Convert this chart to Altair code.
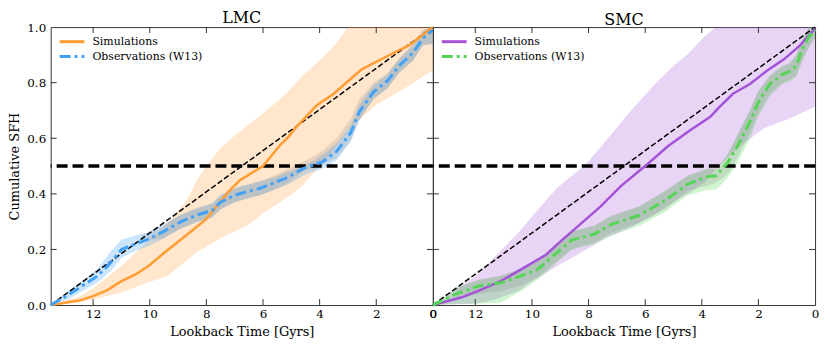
import altair as alt
import pandas as pd

FONT = "DejaVu Serif"
W, H = 385, 280
T_MAX = 13.5

panel_titles = ["LMC", "SMC"]
legend_labels = ["Simulations", "Observations (W13)"]
x_axis_title = "Lookback Time [Gyrs]"
y_axis_title = "Cumulative SFH"

x_ticks_left = [12, 10, 8, 6, 4, 2, 0]
x_ticks_right = [13.5, 12, 10, 8, 6, 4, 2, 0]
x_minor = [12, 10, 8, 6, 4, 2]
y_ticks = [0.0, 0.2, 0.4, 0.6, 0.8, 1.0]
y_minor = [0.2, 0.4, 0.6, 0.8]

diag_t = [13.5, 0.0]
diag_v = [0.0, 1.0]
half_line = [0.5]

# ---------------- LMC ----------------
lmc_sim_t = [13.5, 12.5, 12.0, 11.5, 11.0, 10.5, 10.0, 9.5, 9.0, 8.5, 8.0, 7.6, 7.2, 6.8,
             6.4, 6.0, 5.4, 5.1, 4.8, 4.1, 3.5, 3.0, 2.5, 1.6, 0.8, 0.0]
lmc_sim_v = [0.0, 0.016, 0.032, 0.054, 0.086, 0.11, 0.144, 0.187, 0.228, 0.268, 0.31, 0.36,
             0.41, 0.45, 0.475, 0.5, 0.575, 0.605, 0.643, 0.719, 0.76, 0.805, 0.849, 0.896,
             0.937, 1.0]

lmc_simband_t = [13.5, 12.5, 12.0, 11.0, 10.1, 9.4, 8.7, 8.35, 8.0, 7.5, 7.0, 6.5, 6.0, 5.4,
                 5.1, 4.6, 4.0, 3.5, 3.0, 2.0, 1.0, 0.0]
lmc_simband_hi = [0.0, 0.03, 0.06, 0.14, 0.228, 0.29, 0.376, 0.447, 0.5, 0.565, 0.61, 0.65,
                  0.69, 0.74, 0.77, 0.825, 0.88, 0.93, 1.0, 1.0, 1.0, 1.0]
lmc_simband_lo = [0.0, 0.01, 0.02, 0.045, 0.08, 0.104, 0.16, 0.19, 0.21, 0.24, 0.265, 0.29,
                  0.33, 0.37, 0.39, 0.43, 0.5, 0.56, 0.63, 0.72, 0.78, 0.845]

lmc_obs_t = [13.5, 12.9, 12.4, 11.85, 11.4, 11.0, 10.5, 10.1, 9.5, 8.9, 8.3, 7.8, 7.5, 7.0,
             6.5, 6.1, 5.6, 5.1, 4.6, 4.2, 3.9, 3.4, 2.9, 2.6, 2.1, 1.6, 1.2, 0.7, 0.35, 0.0]
lmc_obs_v = [0.0, 0.035, 0.068, 0.104, 0.15, 0.2, 0.22, 0.235, 0.265, 0.3, 0.325, 0.34, 0.37,
             0.395, 0.41, 0.42, 0.44, 0.46, 0.49, 0.505, 0.515, 0.553, 0.62, 0.695, 0.766,
             0.807, 0.86, 0.908, 0.96, 0.99]
lmc_obsband_hi = [0.0, 0.05, 0.085, 0.13, 0.19, 0.236, 0.25, 0.26, 0.29, 0.325, 0.35, 0.365,
                  0.395, 0.42, 0.435, 0.445, 0.46, 0.48, 0.5, 0.52, 0.54, 0.58, 0.645, 0.72,
                  0.79, 0.83, 0.885, 0.935, 0.985, 1.0]
lmc_obsband_lo = [0.0, 0.02, 0.05, 0.08, 0.12, 0.17, 0.195, 0.21, 0.24, 0.275, 0.3, 0.315,
                  0.345, 0.37, 0.385, 0.395, 0.415, 0.435, 0.465, 0.48, 0.49, 0.52, 0.59,
                  0.665, 0.74, 0.78, 0.835, 0.88, 0.935, 0.94]

lmc_gray_t = [10.3, 9.5, 8.9, 8.3, 7.8, 7.5, 7.0, 6.5, 6.1, 5.6, 5.1, 4.6, 4.2, 3.9, 3.4,
              2.9, 2.6, 2.1, 1.6, 1.2, 0.7, 0.35, 0.0]
lmc_gray_hi = [0.25, 0.29, 0.325, 0.35, 0.365, 0.395, 0.42, 0.435, 0.445, 0.465, 0.49, 0.515,
               0.535, 0.555, 0.6, 0.67, 0.74, 0.8, 0.835, 0.885, 0.94, 0.99, 1.0]
lmc_gray_lo = [0.23, 0.24, 0.275, 0.3, 0.315, 0.345, 0.37, 0.385, 0.395, 0.415, 0.44, 0.48,
               0.495, 0.505, 0.53, 0.59, 0.665, 0.74, 0.78, 0.835, 0.88, 0.935, 0.94]

# ---------------- SMC ----------------
smc_sim_t = [13.5, 12.5, 11.9, 11.1, 10.2, 9.5, 9.0, 8.3, 7.6, 6.85, 6.0, 5.2, 4.4, 3.7, 3.4,
             2.9, 2.3, 1.7, 1.1, 0.55, 0.0]
smc_sim_v = [0.0, 0.027, 0.051, 0.086, 0.139, 0.181, 0.228, 0.29, 0.352, 0.429, 0.5, 0.571,
             0.63, 0.677, 0.71, 0.76, 0.795, 0.843, 0.884, 0.932, 0.995]

smc_simband_t = [13.5, 12.0, 11.3, 10.5, 9.9, 9.1, 8.1, 7.4, 6.5, 5.6, 4.9, 4.5, 3.9, 3.5,
                 2.8, 1.8, 0.9, 0.0]
smc_simband_hi = [0.0, 0.104, 0.175, 0.258, 0.33, 0.423, 0.506, 0.589, 0.70, 0.801, 0.87,
                  0.902, 0.967, 1.0, 1.0, 1.0, 1.0, 1.0]
smc_simband_lo = [0.0, 0.005, 0.02, 0.05, 0.092, 0.14, 0.199, 0.24, 0.281, 0.33, 0.376, 0.40,
                  0.441, 0.49, 0.56, 0.636, 0.671, 0.713]

smc_obs_t = [13.5, 12.7, 11.9, 11.1, 10.4, 9.8, 9.2, 8.6, 7.8, 7.2, 6.2, 5.3, 4.5, 3.8, 3.5,
             3.1, 2.75, 2.3, 2.0, 1.6, 1.15, 0.9, 0.67, 0.43, 0.2, 0.0]
smc_obs_v = [0.0, 0.039, 0.068, 0.08, 0.104, 0.128, 0.181, 0.234, 0.255, 0.29, 0.323, 0.376,
             0.435, 0.462, 0.465, 0.51, 0.57, 0.66, 0.73, 0.795, 0.83, 0.84, 0.86, 0.926,
             0.967, 0.99]
smc_obsband_hi = [0.0, 0.06, 0.09, 0.105, 0.13, 0.16, 0.215, 0.265, 0.285, 0.32, 0.355, 0.41,
                  0.465, 0.49, 0.49, 0.54, 0.61, 0.7, 0.77, 0.825, 0.86, 0.87, 0.9, 0.96,
                  1.0, 1.0]
smc_obsband_lo = [0.0, 0.005, 0.005, 0.008, 0.05, 0.09, 0.145, 0.2, 0.22, 0.25, 0.285, 0.335,
                  0.395, 0.415, 0.415, 0.455, 0.51, 0.6, 0.68, 0.75, 0.795, 0.805, 0.82,
                  0.88, 0.93, 0.96]

smc_gray_t = [12.7, 11.9, 11.1, 10.4, 9.8, 9.2, 8.6, 7.8, 7.2, 6.2, 5.3, 4.5, 3.8, 3.5, 3.1,
              2.75, 2.3, 2.0, 1.6, 1.15, 0.9, 0.67, 0.43, 0.2, 0.0]
smc_gray_hi = [0.06, 0.09, 0.105, 0.13, 0.16, 0.215, 0.265, 0.285, 0.32, 0.355, 0.41, 0.465,
               0.49, 0.49, 0.54, 0.61, 0.7, 0.77, 0.825, 0.86, 0.87, 0.9, 0.96, 1.0, 1.0]
smc_gray_lo = [0.02, 0.04, 0.05, 0.07, 0.1, 0.15, 0.2, 0.225, 0.26, 0.295, 0.345, 0.41,
               0.43, 0.44, 0.47, 0.53, 0.62, 0.69, 0.76, 0.8, 0.81, 0.825, 0.89, 0.935, 0.96]

colors = {
    "lmc_sim": "#ff9d33", "lmc_obs": "#42a1f5",
    "smc_sim": "#a452d8", "smc_obs": "#55d455",
}

x_scale = alt.Scale(domain=[0, T_MAX], reverse=True, nice=False, zero=False)
y_scale = alt.Scale(domain=[0, 1], nice=False, zero=False)
FRAME = "#333333"


def line_df(t, v):
    return pd.DataFrame({"t": t, "v": v})


def band_df(t, lo, hi):
    return pd.DataFrame({"t": t, "lo": lo, "hi": hi})


def panel(title, sim_t, sim_v, sb_t, sb_lo, sb_hi, obs_t, obs_v, ob_lo, ob_hi,
          g_t, g_lo, g_hi, c_sim, c_obs, left):
    if left:
        xaxis = alt.Axis(values=x_ticks_left, title=x_axis_title, labelFlush=False,
                         labelOverlap=False, format="d")
        yaxis = alt.Axis(values=y_ticks, title=y_axis_title, format=".1f")
    else:
        xaxis = alt.Axis(values=x_ticks_right, title=x_axis_title, labelFlush=False,
                         labelOverlap=False,
                         labelExpr="datum.value == 13.5 ? '0' : format(datum.value, 'd')")
        yaxis = None

    def X(f):
        return alt.X(f"{f}:Q", scale=x_scale, axis=xaxis)

    def Y(f):
        return alt.Y(f"{f}:Q", scale=y_scale, axis=yaxis)

    layers = []
    # bands
    layers.append(alt.Chart(band_df(sb_t, sb_lo, sb_hi)).mark_area(
        color=c_sim, opacity=0.25).encode(x=X("t"), y=Y("lo"), y2="hi"))
    layers.append(alt.Chart(band_df(obs_t, ob_lo, ob_hi)).mark_area(
        color=c_obs, opacity=0.28).encode(x=X("t"), y=Y("lo"), y2="hi"))
    layers.append(alt.Chart(band_df(g_t, g_lo, g_hi)).mark_area(
        color="#808080", opacity=0.2).encode(x=X("t"), y=Y("lo"), y2="hi"))
    # reference lines
    layers.append(alt.Chart(line_df(diag_t, diag_v)).mark_line(
        color="black", strokeWidth=1.5, strokeDash=[5.5, 2.5]).encode(x=X("t"), y=Y("v")))
    layers.append(alt.Chart(pd.DataFrame({"v": half_line})).mark_rule(
        color="black", strokeWidth=3.5, strokeDash=[11, 5]).encode(y=Y("v")))
    # series
    layers.append(alt.Chart(line_df(sim_t, sim_v)).mark_line(
        color=c_sim, strokeWidth=2.5).encode(x=X("t"), y=Y("v")))
    layers.append(alt.Chart(line_df(obs_t, obs_v)).mark_line(
        color=c_obs, strokeWidth=3, strokeDash=[11, 4, 3, 4]).encode(x=X("t"), y=Y("v")))
    # inward ticks
    xt = pd.DataFrame({"tick": x_minor})
    yt = pd.DataFrame({"tick": y_minor})
    layers.append(alt.Chart(xt).mark_rule(color=FRAME, strokeWidth=1).encode(
        x=X("tick"), y=alt.value(0), y2=alt.value(6)))
    layers.append(alt.Chart(xt).mark_rule(color=FRAME, strokeWidth=1).encode(
        x=X("tick"), y=alt.value(H), y2=alt.value(H - 6)))
    layers.append(alt.Chart(yt).mark_rule(color=FRAME, strokeWidth=1).encode(
        y=Y("tick"), x=alt.value(0), x2=alt.value(6)))
    layers.append(alt.Chart(yt).mark_rule(color=FRAME, strokeWidth=1).encode(
        y=Y("tick"), x=alt.value(W), x2=alt.value(W - 6)))
    # legend
    one = pd.DataFrame({"a": [0]})
    layers.append(alt.Chart(one).mark_rule(color=c_sim, strokeWidth=3).encode(
        x=alt.value(9), x2=alt.value(34), y=alt.value(14.7)))
    layers.append(alt.Chart(one).mark_rule(color=c_obs, strokeWidth=3,
                                           strokeDash=[11, 4, 3, 4]).encode(
        x=alt.value(9), x2=alt.value(34), y=alt.value(29.7)))
    layers.append(alt.Chart(one).mark_text(
        text=legend_labels[0], font=FONT, fontSize=11, align="left", baseline="middle",
        color="black").encode(x=alt.value(42), y=alt.value(14.7)))
    layers.append(alt.Chart(one).mark_text(
        text=legend_labels[1], font=FONT, fontSize=11, align="left", baseline="middle",
        color="black").encode(x=alt.value(42), y=alt.value(29.7)))

    return alt.layer(*layers).properties(
        width=W, height=H,
        title=alt.TitleParams(title, font=FONT, fontSize=16, fontWeight="normal",
                              anchor="middle", offset=-5, color="black"))


left = panel(panel_titles[0], lmc_sim_t, lmc_sim_v, lmc_simband_t, lmc_simband_lo,
             lmc_simband_hi, lmc_obs_t, lmc_obs_v, lmc_obsband_lo, lmc_obsband_hi,
             lmc_gray_t, lmc_gray_lo, lmc_gray_hi, colors["lmc_sim"], colors["lmc_obs"], True)
right = panel(panel_titles[1], smc_sim_t, smc_sim_v, smc_simband_t, smc_simband_lo,
              smc_simband_hi, smc_obs_t, smc_obs_v, smc_obsband_lo, smc_obsband_hi,
              smc_gray_t, smc_gray_lo, smc_gray_hi, colors["smc_sim"], colors["smc_obs"], False)

chart = alt.hconcat(left, right, spacing=0, bounds="flush").properties(
    padding={"left": 0, "top": 0, "right": 0, "bottom": 0}
).configure_view(
    stroke=FRAME, strokeWidth=1
).configure_axis(
    ticks=False, domain=False, grid=False,
    labelFont=FONT, labelFontSize=12, labelColor="black", labelPadding=4,
    titleFont=FONT, titleFontSize=13, titleFontWeight="normal", titleColor="black",
    titlePadding=3
).configure_axisX(titlePadding=6).configure_axisY(labelPadding=5, titlePadding=5)

chart.save("out.html", embed_options={"renderer": "svg", "actions": False})
